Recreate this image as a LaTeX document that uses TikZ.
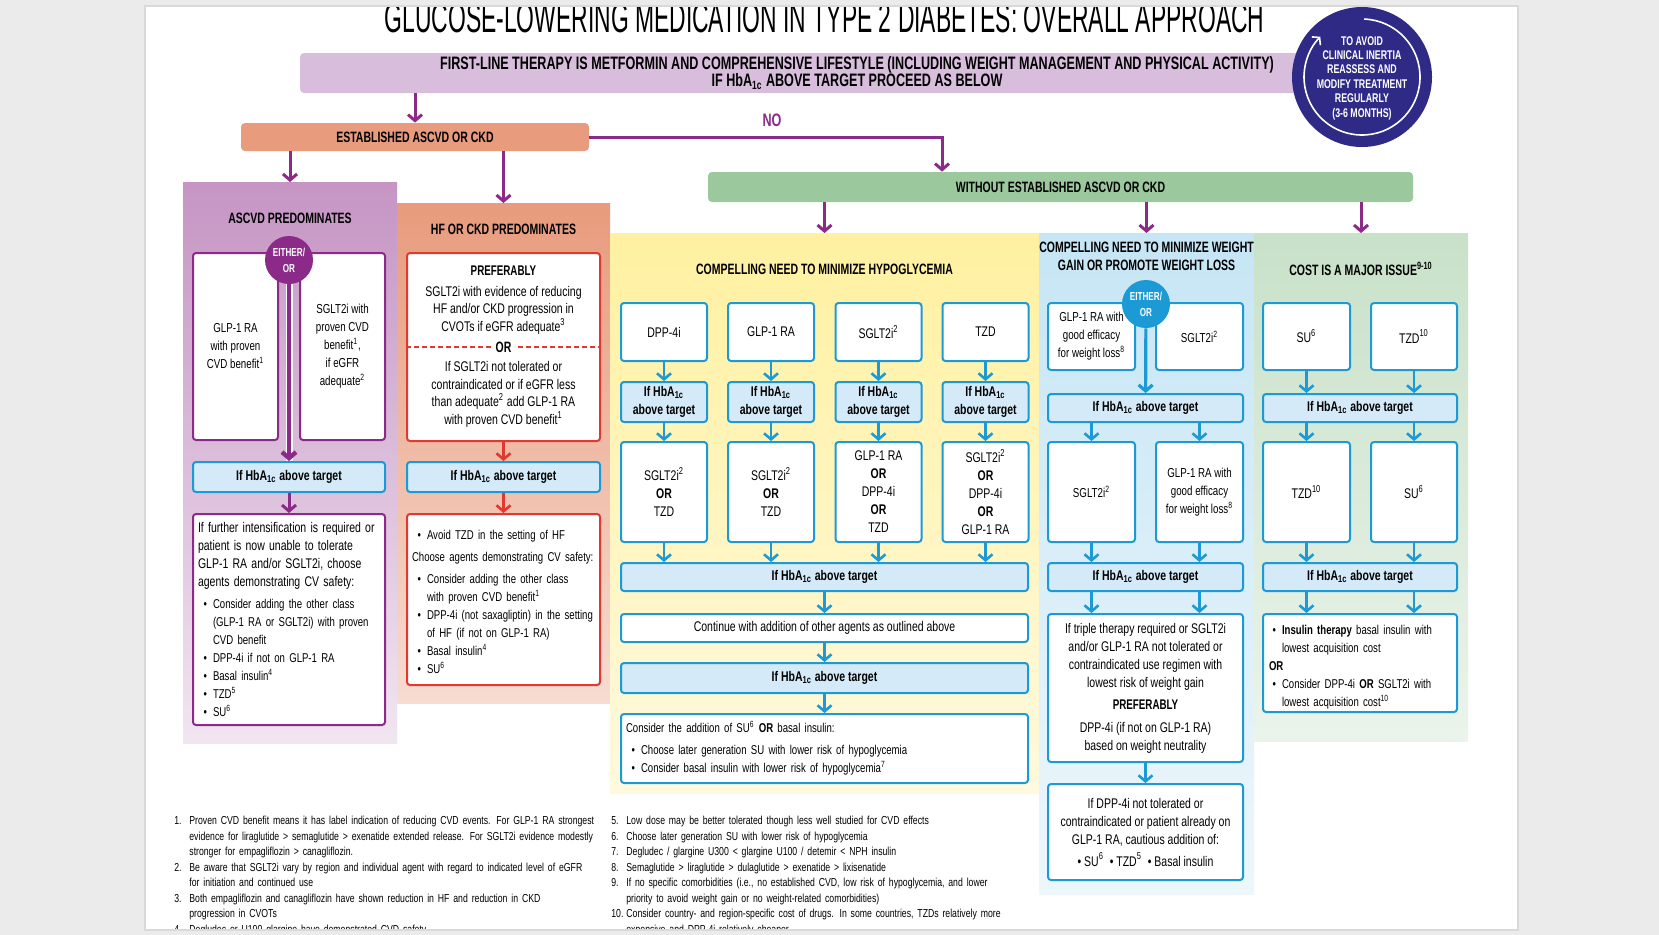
\documentclass[tikz,border=0pt]{standalone}
\usepackage{fontspec}
\setmainfont{Liberation Sans}[FakeStretch=0.75]
\newfontfamily\headfont{Liberation Sans}[FakeStretch=0.7]
\newfontfamily\titlefont{Liberation Sans}[FakeStretch=0.545]
\usepackage{enumitem}
\usepackage{xcolor}
\usepackage{tikz}
\usetikzlibrary{arrows.meta, positioning, calc}

\setlength{\parindent}{0pt}
\setlist[itemize]{nosep, topsep=2pt, leftmargin=7.5pt, labelsep=3pt, label=\textbullet}
\setlist[enumerate]{nosep, leftmargin=7.5pt, labelwidth=7pt, labelsep=0.5pt, align=left}

\newcommand{\bodyfs}{\fontsize{7}{9}\selectfont}
\newcommand{\smallfs}{\fontsize{6.4}{9}\selectfont}
\newcommand{\headfs}{\headfont\bfseries\fontsize{7.5}{9}\selectfont}
\newcommand{\HbA}{HbA\textsubscript{1c}}

\definecolor{cblue}{HTML}{1B9AD6}
\definecolor{clightblue}{HTML}{D5EAF8}
\definecolor{cpurple}{HTML}{8C2A89}
\definecolor{cred}{HTML}{E03A30}
\definecolor{cnavy}{HTML}{2F2A85}
\definecolor{clavender}{HTML}{D8BEDC}
\definecolor{corange}{HTML}{E89B7D}
\definecolor{cgreen}{HTML}{9BC89C}
\definecolor{cyellowtop}{HTML}{FFF1A0}
\definecolor{cyellowbot}{HTML}{FFF9DE}
\definecolor{cframe}{HTML}{EBEBEB}
\definecolor{cframeline}{HTML}{D9D9D9}

\begin{document}
\begin{tikzpicture}[
    x=0.5pt, y=-0.5pt,
    wd/.style={minimum width=#1*0.5pt},
    ht/.style={minimum height=#1*0.5pt},
    panel/.style={anchor=north west, inner sep=0pt, outer sep=0pt},
    topbar/.style={rounded corners=2pt, inner sep=0pt, align=center, font=\headfs},
    headlabel/.style={align=center, font=\headfs, inner sep=0pt},
    box/.style={draw=cblue, line width=1pt, fill=white, rounded corners=1.5pt,
        inner sep=1pt, align=center, font=\bodyfs},
    narrowbox/.style={box, font=\fontsize{6.5}{9}\selectfont},
    listbox/.style={box, align=left, inner xsep=2.5pt, font=\smallfs},
    hbabox/.style={box, fill=clightblue, font=\bodyfs\bfseries},
    eitherdot/.style={circle, minimum size=24pt, inner sep=0pt, text=white, align=center,
        font=\headfont\bfseries\fontsize{5.8}{8}\selectfont},
    arrowbase/.style={line width=1.3pt, -{Straight Barb[length=3pt, width=7pt]}},
    bluearrow/.style={arrowbase, draw=cblue},
    redarrow/.style={arrowbase, draw=cred},
    purplearrow/.style={arrowbase, draw=cpurple, line width=1.5pt},
    notes/.style={anchor=north west, align=left, text width=240pt, inner sep=0pt,
        font=\fontsize{5.8}{7.75}\selectfont}
]
    \useasboundingbox (0,0) rectangle (1659,934);
    \fill[white] (0,0) rectangle (1659,934);

    % --- PANELS ---
    \node[panel, wd=214, ht=561, top color=cpurple!50, bottom color=cpurple!12] (ascvd) at (183,182) {};
    \node[panel, wd=213, ht=500, top color=corange, bottom color=corange!35] (hf) at (397,203) {};
    \node[panel, wd=429, ht=560, top color=cyellowtop, bottom color=cyellowbot] (hypo) at (610,233) {};
    \node[panel, wd=215, ht=661, top color=cblue!25, bottom color=cblue!8] (weight) at (1039,233) {};
    \node[panel, wd=214, ht=508, top color=cgreen!55, bottom color=cgreen!20] (cost) at (1254,233) {};

    % --- TOP BARS ---
    \node[topbar, fill=clavender, wd=1114, ht=40, font=\headfont\bfseries\fontsize{9}{8.5}\selectfont] (firstline) at (857,73)
        {FIRST-LINE THERAPY IS METFORMIN AND COMPREHENSIVE LIFESTYLE (INCLUDING WEIGHT MANAGEMENT AND PHYSICAL ACTIVITY)\\
         IF \HbA{} ABOVE TARGET PROCEED AS BELOW};
    \node[circle, fill=cnavy, minimum size=70pt, inner sep=0pt] (reassess) at (1362,77) {};
    \draw[white, line width=0.8pt, -{Straight Barb[length=2.5pt, width=6pt]}]
        ([shift={(-88:58)}]reassess.center) arc[start angle=-88, end angle=224, radius=58];
    \node[text=white, align=center, inner sep=0pt, font=\headfont\bfseries\fontsize{6.3}{7.2}\selectfont] (reasstext) at (1362,78)
        {TO AVOID\\CLINICAL INERTIA\\REASSESS AND\\MODIFY TREATMENT\\REGULARLY\\(3-6 MONTHS)};

    \node[topbar, fill=corange, wd=348, ht=28] (est) at (415,137) {ESTABLISHED ASCVD OR CKD};
    \node[topbar, fill=cgreen, wd=705, ht=30] (without) at (1060.5,187) {WITHOUT ESTABLISHED ASCVD OR CKD};
    \node[font=\headfont\bfseries\fontsize{9}{9}\selectfont, text=cpurple] (nolabel) at (772,120) {NO};
    \coordinate (nobend) at (942,137);

    % Connectors from the top
    \draw[purplearrow] (firstline.south -| est.north) -- (est.north);
    \draw[purplearrow] (est.east) -- (nobend) -- (nobend |- without.north);
    \draw[purplearrow] (est.south -| ascvd.north) -- (ascvd.north);
    \draw[purplearrow] (est.south -| hf.north) -- (hf.north);
    \draw[purplearrow] (without.south -| hypo.north) -- (hypo.north);
    \draw[purplearrow] (without.south -| weight.north) -- (weight.north);
    \draw[purplearrow] (without.south -| cost.north) -- (cost.north);

    % --- PANEL TITLES ---
    \node[headlabel] (ascvdtitle) at (290,218) {ASCVD PREDOMINATES};
    \node[headlabel] (hftitle) at (503.5,229) {HF OR CKD PREDOMINATES};
    \node[headlabel] (hypotitle) at (824.5,269) {COMPELLING NEED TO MINIMIZE HYPOGLYCEMIA};
    \node[headlabel] (weighttitle) at (1146.5,256.5) {COMPELLING NEED TO MINIMIZE WEIGHT\\GAIN OR PROMOTE WEIGHT LOSS};
    \node[headlabel] (costtitle) at (1361,269) {COST IS A MAJOR ISSUE\textsuperscript{9-10}};

    % --- ASCVD PREDOMINATES ---
    \node[narrowbox, draw=cpurple, wd=85, ht=187] (ascvdglp) at (235.5,346.5) {GLP-1 RA\\with proven\\CVD benefit\textsuperscript{1}};
    \node[narrowbox, draw=cpurple, wd=85, ht=187] (ascvdsglt) at (342.5,346.5) {SGLT2i with\\proven CVD\\benefit\textsuperscript{1},\\if eGFR\\adequate\textsuperscript{2}};
    \node[eitherdot, fill=cpurple] (eitherA) at (289,260) {EITHER/\\OR};
    \node[hbabox, wd=192, ht=30] (ascvdhba) at (289,477) {If \HbA{} above target};
    \node[listbox, draw=cpurple, wd=192, ht=211, text width=91pt] (ascvdnext) at (289,619.5)
        {{\bodyfs If further intensification is required or\\patient is now unable to tolerate\\GLP-1 RA and/or SGLT2i, choose\\agents demonstrating CV safety:\par}
        \begin{itemize}
            \item Consider adding the other class\\(GLP-1 RA or SGLT2i) with proven\\CVD benefit
            \item DPP-4i if not on GLP-1 RA
            \item Basal insulin\textsuperscript{4}
            \item TZD\textsuperscript{5}
            \item SU\textsuperscript{6}
        \end{itemize}};
    \draw[white, line width=3.5pt] (eitherA.south) -- (ascvdhba.north);
    \draw[purplearrow, line width=2.2pt] (eitherA.south) -- (ascvdhba.north);
    \draw[purplearrow] (ascvdhba) -- (ascvdnext);

    % --- HF OR CKD PREDOMINATES ---
    \node[box, draw=cred, wd=193, ht=188] (hftop) at (503.5,347) {};
    \node[align=center, font=\fontsize{7}{8.75}\selectfont] (hfpref) at (503.5,300)
        {{\headfont\bfseries PREFERABLY}\\[1.5pt]SGLT2i with evidence of reducing\\HF and/or CKD progression in\\CVOTs if eGFR adequate\textsuperscript{3}};
    \draw[cred, line width=0.8pt, dash pattern=on 2.5pt off 1.5pt] (hftop.west) -- (hftop.east);
    \node[fill=white, font=\headfs, inner sep=2pt] (hfor) at (hftop.center) {OR};
    \node[align=center, font=\fontsize{7}{8.75}\selectfont] (hfalt) at (503.5,394.5)
        {If SGLT2i not tolerated or\\contraindicated or if eGFR less\\than adequate\textsuperscript{2} add GLP-1 RA\\with proven CVD benefit\textsuperscript{1}};
    \node[hbabox, wd=193, ht=30] (hfhba) at (503.5,477) {If \HbA{} above target};
    \node[listbox, draw=cred, wd=193, ht=171, text width=91.5pt] (hfnext) at (503.5,599.5)
        {\begin{itemize}[topsep=0pt]
            \item Avoid TZD in the setting of HF
        \end{itemize}
        \vspace{2pt}Choose agents demonstrating CV safety:
        \begin{itemize}
            \item Consider adding the other class\\with proven CVD benefit\textsuperscript{1}
            \item DPP-4i (not saxagliptin) in the setting\\of HF (if not on GLP-1 RA)
            \item Basal insulin\textsuperscript{4}
            \item SU\textsuperscript{6}
        \end{itemize}
        \vspace{3.5pt}};
    \draw[redarrow] (hftop) -- (hfhba);
    \draw[redarrow] (hfhba) -- (hfnext);

    % --- MINIMIZE HYPOGLYCEMIA ---
    \node[box, wd=86, ht=58] (hgtop1) at (664,332) {DPP-4i};
    \node[box, wd=86, ht=58] (hgtop2) at (771,332) {GLP-1 RA};
    \node[box, wd=86, ht=58] (hgtop3) at (878.5,332) {SGLT2i\textsuperscript{2}};
    \node[box, wd=86, ht=58] (hgtop4) at (985.5,332) {TZD};
    \foreach \i/\xx in {1/664, 2/771, 3/878.5, 4/985.5}
        \node[hbabox, wd=86, ht=40] (hgmid\i) at (\xx,402) {If \HbA\\above target};
    \node[box, wd=86, ht=100] (hglow1) at (664,492) {SGLT2i\textsuperscript{2}\\\textbf{OR}\\TZD};
    \node[box, wd=86, ht=100] (hglow2) at (771,492) {SGLT2i\textsuperscript{2}\\\textbf{OR}\\TZD};
    \node[box, wd=86, ht=100] (hglow3) at (878.5,492) {GLP-1 RA\\\textbf{OR}\\DPP-4i\\\textbf{OR}\\TZD};
    \node[box, wd=86, ht=100] (hglow4) at (985.5,492) {SGLT2i\textsuperscript{2}\\\textbf{OR}\\DPP-4i\\\textbf{OR}\\GLP-1 RA};
    \node[hbabox, wd=407, ht=28] (hghba) at (824.5,577) {If \HbA{} above target};
    \node[box, wd=407, ht=28] (hgcont) at (824.5,628) {Continue with addition of other agents as outlined above};
    \node[hbabox, wd=407, ht=30] (hghbb) at (824.5,678) {If \HbA{} above target};
    \node[listbox, wd=407, ht=69, text width=198.5pt] (hgcons) at (824.5,748.5)
        {Consider the addition of SU\textsuperscript{6} \textbf{OR} basal insulin:
        \begin{itemize}
            \item Choose later generation SU with lower risk of hypoglycemia
            \item Consider basal insulin with lower risk of hypoglycemia\textsuperscript{7}
        \end{itemize}};
    \foreach \i in {1,...,4} {
        \draw[bluearrow] (hgtop\i) -- (hgmid\i);
        \draw[bluearrow] (hgmid\i) -- (hglow\i);
        \draw[bluearrow] (hglow\i.south) -- (hglow\i.south |- hghba.north);
    }
    \draw[bluearrow] (hghba) -- (hgcont);
    \draw[bluearrow] (hgcont) -- (hghbb);
    \draw[bluearrow] (hghbb) -- (hgcons);

    % --- MINIMIZE WEIGHT GAIN ---
    \node[narrowbox, wd=87, ht=67] (wtop1) at (1091.5,336.5) {GLP-1 RA with\\good efficacy\\for weight loss\textsuperscript{8}};
    \node[narrowbox, wd=87, ht=67] (wtop2) at (1199.5,336.5) {SGLT2i\textsuperscript{2}};
    \node[eitherdot, fill=cblue] (eitherB) at (1146,304) {EITHER/\\OR};
    \node[hbabox, wd=195, ht=28] (whba) at (1145.5,408) {If \HbA{} above target};
    \node[narrowbox, wd=87, ht=100] (wlow1) at (1091.5,492) {SGLT2i\textsuperscript{2}};
    \node[narrowbox, wd=87, ht=100] (wlow2) at (1199.5,492) {GLP-1 RA with\\good efficacy\\for weight loss\textsuperscript{8}};
    \node[hbabox, wd=195, ht=28] (whbb) at (1145.5,577) {If \HbA{} above target};
    \node[box, wd=195, ht=148] (wtriple) at (1145.5,688)
        {If triple therapy required or SGLT2i\\and/or GLP-1 RA not tolerated or\\contraindicated use regimen with\\lowest risk of weight gain\\[2pt]
         {\headfont\bfseries PREFERABLY}\\[2.5pt]DPP-4i (if not on GLP-1 RA)\\based on weight neutrality};
    \node[box, wd=195, ht=96] (wlast) at (1145.5,832)
        {If DPP-4i not tolerated or\\contraindicated or patient already on\\GLP-1 RA, cautious addition of:\\[2pt]
         \textbullet\ SU\textsuperscript{6} \ \textbullet\ TZD\textsuperscript{5} \ \textbullet\ Basal insulin};
    \draw[bluearrow, line width=1.6pt] (eitherB) -- (whba);
    \foreach \n in {wlow1, wlow2} {
        \draw[bluearrow] (whba.south -| \n) -- (\n);
        \draw[bluearrow] (\n.south) -- (\n.south |- whbb.north);
        \draw[bluearrow] (whbb.south -| \n) -- (\n |- wtriple.north);
    }
    \draw[bluearrow] (wtriple) -- (wlast);

    % --- COST IS A MAJOR ISSUE ---
    \node[box, wd=87, ht=67] (ctop1) at (1306.5,336.5) {SU\textsuperscript{6}};
    \node[box, wd=86, ht=67] (ctop2) at (1414,336.5) {TZD\textsuperscript{10}};
    \node[hbabox, wd=194, ht=28] (chba) at (1360,408) {If \HbA{} above target};
    \node[box, wd=87, ht=100] (clow1) at (1306.5,492) {TZD\textsuperscript{10}};
    \node[box, wd=86, ht=100] (clow2) at (1414,492) {SU\textsuperscript{6}};
    \node[hbabox, wd=194, ht=28] (chbb) at (1360,577) {If \HbA{} above target};
    \node[listbox, wd=194, ht=98, text width=91pt, inner xsep=3pt] (cins) at (1360,663)
        {\begin{itemize}[topsep=0pt, leftmargin=6.5pt]
            \item \textbf{Insulin therapy} basal insulin with\\lowest acquisition cost
        \end{itemize}
        \textbf{OR}
        \begin{itemize}[topsep=0pt, leftmargin=6.5pt]
            \item Consider DPP-4i \textbf{OR} SGLT2i with\\lowest acquisition cost\textsuperscript{10}
        \end{itemize}
        \vspace{2pt}};
    \foreach \a/\b in {ctop1/clow1, ctop2/clow2} {
        \draw[bluearrow] (\a.south) -- (\a.south |- chba.north);
        \draw[bluearrow] (chba.south -| \b) -- (\b);
        \draw[bluearrow] (\b.south) -- (\b.south |- chbb.north);
        \draw[bluearrow] (chbb.south -| \b) -- (\b |- cins.north);
    }

    % --- FOOTNOTES ---
    \node[notes] (notesL) at (174,809)
        {\begin{enumerate}
            \item Proven CVD benefit means it has label indication of reducing CVD events. For GLP-1 RA strongest\\evidence for liraglutide > semaglutide > exenatide extended release. For SGLT2i evidence modestly\\stronger for empagliflozin > canagliflozin.
            \item Be aware that SGLT2i vary by region and individual agent with regard to indicated level of eGFR\\for initiation and continued use
            \item Both empagliflozin and canagliflozin have shown reduction in HF and reduction in CKD\\progression in CVOTs
            \item Degludec or U100 glargine have demonstrated CVD safety
        \end{enumerate}};
    \node[notes] (notesR) at (611,809)
        {\begin{enumerate}[start=5]
            \item Low dose may be better tolerated though less well studied for CVD effects
            \item Choose later generation SU with lower risk of hypoglycemia
            \item Degludec / glargine U300 < glargine U100 / detemir < NPH insulin
            \item Semaglutide > liraglutide > dulaglutide > exenatide > lixisenatide
            \item If no specific comorbidities (i.e., no established CVD, low risk of hypoglycemia, and lower\\priority to avoid weight gain or no weight-related comorbidities)
            \item Consider country- and region-specific cost of drugs. In some countries, TZDs relatively more\\expensive and DPP-4i relatively cheaper
        \end{enumerate}};

    % Title, cut by the page edge
    \node[font=\titlefont\fontsize{21}{21}\selectfont, anchor=base, inner sep=0pt] (title) at (824.5,32)
        {GLUCOSE-LOWERING MEDICATION IN TYPE 2 DIABETES: OVERALL APPROACH};

    % Page frame
    \fill[cframe, even odd rule] (-5,-5) rectangle (1664,939) (145,6) rectangle (1518,930);
    \draw[cframeline, line width=1.2pt] (145,6) rectangle (1518,930);

\end{tikzpicture}
\end{document}
